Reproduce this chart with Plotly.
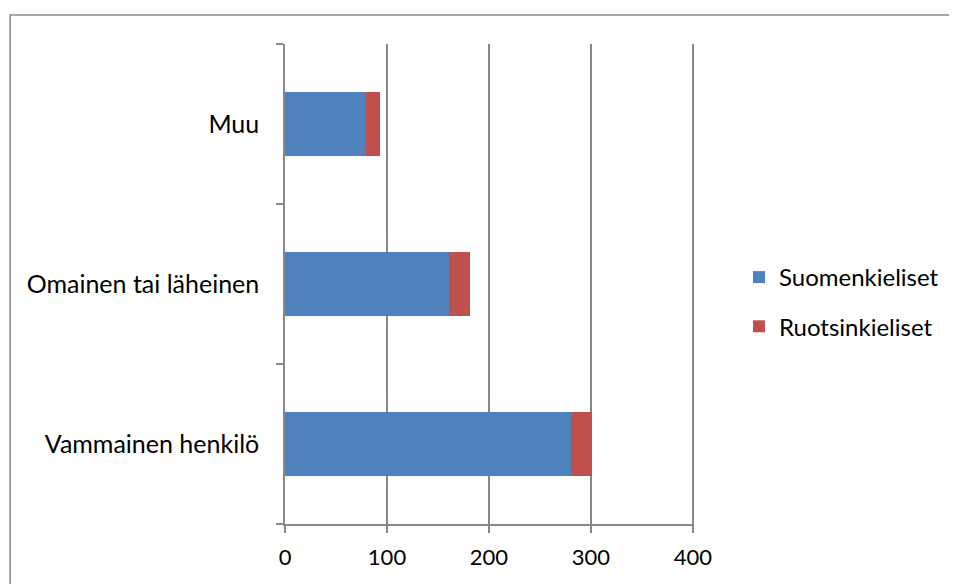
import plotly.graph_objects as go

categories = ["Vammainen henkilö", "Omainen tai läheinen", "Muu"]
suomenkieliset = [280, 161, 79]
ruotsinkieliset = [21, 20, 14]
x_ticks = [0, 100, 200, 300, 400]

FONT = "Lato"
GRID = "#898989"

fig = go.Figure()
fig.add_trace(go.Bar(y=categories, x=suomenkieliset, orientation="h",
                     name="Suomenkieliset", marker=dict(color="#4F81BD", line=dict(width=0)),
                     legendgroup="a"))
fig.add_trace(go.Bar(y=categories, x=ruotsinkieliset, orientation="h",
                     name="Ruotsinkieliset", marker=dict(color="#C0504D", line=dict(width=0)),
                     legendgroup="b"))

fig.update_layout(
    width=949, height=576,
    barmode="stack", bargap=0.6,
    paper_bgcolor="white", plot_bgcolor="white",
    margin=dict(l=277, r=263, t=36, b=60),
    font=dict(family=FONT, size=25, color="#000000"),
    showlegend=True,
    legend=dict(x=1.11, y=0.4625, xanchor="left", yanchor="middle",
                traceorder="grouped", tracegroupgap=15,
                font=dict(family=FONT, size=24, color="#000000"),
                itemwidth=30, bgcolor="rgba(0,0,0,0)"),
    xaxis=dict(range=[0, 401], tickvals=x_ticks, ticktext=[str(v) for v in x_ticks],
               showgrid=True, gridcolor=GRID, gridwidth=1.5,
               showline=True, linecolor=GRID, linewidth=1.5,
               ticks="outside", ticklen=7, tickcolor=GRID, tickwidth=1.5,
               tickfont=dict(size=22), ticklabelstandoff=6,
               zeroline=False, fixedrange=True),
    yaxis=dict(showgrid=False, showline=True, linecolor=GRID, linewidth=1.5,
               ticks="outside", ticklen=7, tickcolor=GRID, tickwidth=1.5,
               tickson="boundaries", ticklabelstandoff=19,
               zeroline=False, fixedrange=True),
    shapes=[dict(type="rect", xref="paper", yref="paper",
                 x0=-0.672, x1=1.7, y0=-0.2, y1=1.0604,
                 line=dict(color="#8a8a8a", width=1.5), fillcolor="rgba(0,0,0,0)",
                 layer="below")],
)

fig.write_html("out.html")
